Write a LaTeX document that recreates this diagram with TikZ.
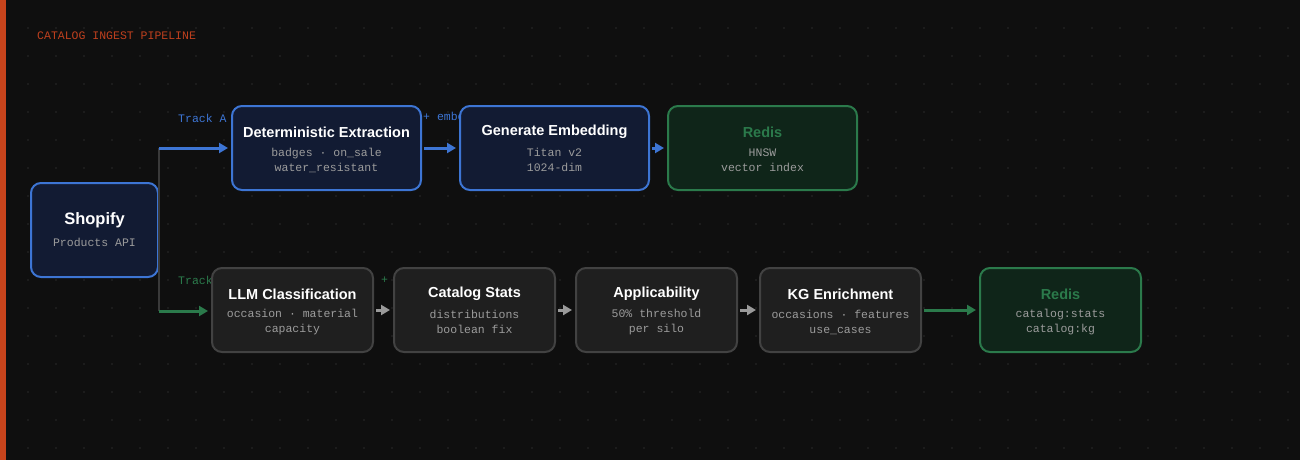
\documentclass[tikz,border=0pt]{standalone}
\usepackage{fontspec}
\setmainfont{Liberation Sans}
\newfontfamily\monof{Liberation Mono}
\usetikzlibrary{arrows.meta}
\definecolor{bg}{HTML}{0F0F0F}
\definecolor{bar}{HTML}{C8441C}
\definecolor{ttl}{HTML}{C0401E}
\definecolor{bluec}{HTML}{3D75D4}
\definecolor{navy}{HTML}{121B33}
\definecolor{greenc}{HTML}{2B7A4B}
\definecolor{greenf}{HTML}{0F2519}
\definecolor{grayf}{HTML}{1F1F1F}
\definecolor{grayb}{HTML}{424242}
\definecolor{subc}{HTML}{9C9C9C}
\definecolor{trunk}{HTML}{3A3A3A}
\definecolor{arrg}{HTML}{9A9A9A}
\definecolor{gridc}{HTML}{1C1C1C}
\tikzset{
  x=1pt, y=-1pt,
  box/.style={rounded corners=10pt, line width=2pt, inner sep=0pt},
  bluebox/.style={box, draw=bluec, fill=navy, minimum width=189pt, minimum height=84pt},
  greenbox/.style={box, draw=greenc, fill=greenf},
  graybox/.style={box, draw=grayb, fill=grayf, minimum width=161pt, minimum height=84pt},
  ttext/.style={inner sep=0pt, text=white, font=\bfseries\fontsize{14.5}{17}\selectfont},
  gtext/.style={ttext, text=greenc},
  stext/.style={inner sep=0pt, text=subc, align=center, font=\monof\fontsize{11.5}{15}\selectfont},
  lbl/.style={inner sep=0pt, anchor=west, font=\monof\fontsize{11.5}{14}\selectfont},
  conn/.style={line width=3pt, -{Triangle[length=9pt,width=10pt]}},
}
\begin{document}
\begin{tikzpicture}
\fill[bg] (0,0) rectangle (1300,460);
\useasboundingbox (0,0) rectangle (1300,460);
\foreach \i in {1,...,46} {\foreach \j in {1,...,16} {\fill[gridc] (28*\i-1,28*\j-1) rectangle ++(2,2);}}
\fill[bar] (0,0) rectangle (6,460);
\node[lbl, text=ttl] (title) at (37,36) {CATALOG INGEST PIPELINE};

% labels (drawn under boxes)
\node[lbl, text=bluec] (la) at (178,118) {Track A};
\node[lbl, text=bluec] (lemb) at (423,118) {+ embedding};
\node[lbl, text=greenc] (lb) at (178,280) {Track B};
\node[lbl, text=greenc] (lplus) at (381,280) {+};

% boxes
\node[box, draw=bluec, fill=navy, minimum width=127pt, minimum height=94pt] (shop) at (94.5,230) {};
\node[ttext, font=\bfseries\fontsize{16.5}{19}\selectfont] (shopt) at (94.5,220) {Shopify};
\node[stext] (shops) at (94.5,242) {Products API};

\node[bluebox] (dex) at (326.5,148) {};
\node[ttext] (dext) at (326.5,132) {Deterministic Extraction};
\node[stext] (dexs) at (326.5,160) {badges · on\_sale\\water\_resistant};

\node[bluebox] (gen) at (554.5,148) {};
\node[ttext] (gent) at (554.5,132) {Generate Embedding};
\node[stext] (gens) at (554.5,160) {Titan v2\\1024-dim};

\node[greenbox, minimum width=189pt, minimum height=84pt] (red1) at (762.5,148) {};
\node[gtext] (red1t) at (762.5,132) {Redis};
\node[stext] (red1s) at (762.5,160) {HNSW\\vector index};

\node[graybox] (llm) at (292.5,310) {};
\node[ttext] (llmt) at (292.5,294) {LLM Classification};
\node[stext] (llms) at (292.5,322) {occasion · material\\capacity};

\node[graybox] (stats) at (474.5,310) {};
\node[ttext] (statst) at (474.5,294) {Catalog Stats};
\node[stext] (statss) at (474.5,322) {distributions\\boolean fix};

\node[graybox] (app) at (656.5,310) {};
\node[ttext] (appt) at (656.5,294) {Applicability};
\node[stext] (apps) at (656.5,322) {50\% threshold\\per silo};

\node[graybox] (kg) at (840.5,310) {};
\node[ttext] (kgt) at (840.5,294) {KG Enrichment};
\node[stext] (kgs) at (840.5,322) {occasions · features\\use\_cases};

\node[greenbox, minimum width=161pt, minimum height=84pt] (red2) at (1060.5,310) {};
\node[gtext] (red2t) at (1060.5,294) {Redis};
\node[stext] (red2s) at (1060.5,322) {catalog:stats\\catalog:kg};

% connectors
\coordinate (ta) at (159,148);
\coordinate (tb) at (159,311);
\draw[trunk, line width=2pt] (ta) -- (tb);
\draw[conn, bluec, shorten >=3pt] (ta) -- (dex.west);
\draw[conn, greenc, shorten >=3pt] (tb) -- (tb -| llm.west);
\draw[conn, bluec, shorten <=2pt, shorten >=3pt] (dex.east) -- (gen.west);
\draw[conn, bluec, shorten <=2pt, shorten >=3pt] (gen.east) -- (red1.west);
\draw[conn, arrg, shorten <=2pt, shorten >=3pt] (llm.east) -- (stats.west);
\draw[conn, arrg, shorten <=2pt, shorten >=3pt] (stats.east) -- (app.west);
\draw[conn, arrg, shorten <=2pt, shorten >=3pt] (app.east) -- (kg.west);
\draw[conn, greenc, shorten <=2pt, shorten >=3pt] (kg.east) -- (red2.west);
\end{tikzpicture}
\end{document}
